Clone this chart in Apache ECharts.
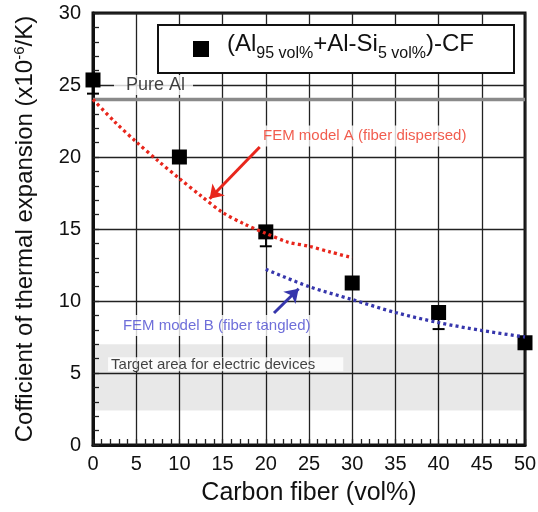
<!DOCTYPE html>
<html>
<head>
<meta charset="utf-8">
<script src="https://cdn.jsdelivr.net/npm/echarts@6/dist/echarts.min.js"></script>
<style>
  html, body { margin: 0; padding: 0; background: #fff; }
  #chart { width: 538px; height: 512px; }
</style>
</head>
<body>
<div id="chart"></div>
<script>
// Measured CTE of (Al95vol% + Al-Si5vol%)-CF composites
const fiberVol = [0, 10, 20, 30, 40, 50];
const cteMeasured = [25.35, 20.0, 14.8, 11.25, 9.2, 7.1];
// lower ends of the error bars (null = no bar)
const errLower = [24.4, null, 13.8, null, 8.05, null];

// FEM model A (fiber dispersed)
const modelAFiber = [0, 2.5, 5, 7.5, 10, 12.5, 15, 17.5, 20, 22.5, 25, 27.5, 30];
const modelACte = [24.0, 22.45, 21.05, 19.75, 18.5, 17.3, 16.15, 15.35, 14.7, 14.1, 13.8, 13.4, 13.0];

// FEM model B (fiber tangled)
const modelBFiber = [20, 25, 30, 35, 40, 45, 50];
const modelBCte = [12.2, 11.0, 10.1, 9.2, 8.5, 7.95, 7.5];

// reference level and target window
const pureAlCte = 24.0;
const targetBand = [2.4, 7.0];

const FONT = '"Liberation Sans", Arial, Helvetica, sans-serif';
const RED = '#e8261c';
const BLUE = '#3636ac';
const INK = '#111';

const zip = (xs, ys) => xs.map((x, i) => [x, ys[i]]);
const errData = fiberVol
  .map((x, i) => errLower[i] == null ? null : [x, errLower[i], cteMeasured[i]])
  .filter(d => d);

const chart = echarts.init(document.getElementById('chart'), null, { renderer: 'canvas' });

const textLabel = (text, color, fontSize, padding, extra) => Object.assign({
  show: true,
  position: 'right',
  distance: 0,
  formatter: text,
  color: color,
  fontFamily: FONT,
  fontSize: fontSize,
  backgroundColor: '#fff',
  padding: padding,
  align: 'left',
  verticalAlign: 'middle'
}, extra || {});

const axisCommon = {
  type: 'value',
  nameLocation: 'middle',
  nameMoveOverlap: false,
  axisLine: { show: true, lineStyle: { color: INK, width: 3 } },
  axisTick: { show: true, inside: true, length: 6, lineStyle: { color: '#222', width: 1.3 } },
  minorTick: { show: true, splitNumber: 5, length: 6, lineStyle: { color: '#222', width: 1.3 } },
  splitLine: { show: true, lineStyle: { color: '#222', width: 1.3 } }
};

const option = {
  animation: false,
  backgroundColor: '#fff',
  grid: {
    left: 93, right: 13, top: 13, bottom: 67,
    outerBoundsMode: 'none',
    containLabel: false,
    show: true,
    backgroundColor: 'transparent',
    borderColor: INK,
    borderWidth: 3
  },
  xAxis: Object.assign({}, axisCommon, {
    min: 0, max: 50, interval: 5,
    name: 'Carbon fiber (vol%)',
    nameGap: 36,
    nameTextStyle: { fontFamily: FONT, fontSize: 25, color: INK },
    axisLabel: { fontFamily: FONT, fontSize: 20, color: INK, margin: 9 }
  }),
  yAxis: Object.assign({}, axisCommon, {
    min: 0, max: 30, interval: 5,
    name: 'Cofficient of thermal expansion (x10{sup|-6}/K)',
    nameRotate: 90,
    nameGap: 54,
    nameTextStyle: {
      fontFamily: FONT, fontSize: 24, color: INK,
      rich: { sup: { fontFamily: FONT, fontSize: 15, color: INK, padding: [0, 0, 12, 0] } }
    },
    axisLabel: { fontFamily: FONT, fontSize: 20, color: INK, margin: 12 }
  }),
  series: [
    {
      // Pure Al reference line + target window shading
      name: 'Pure Al',
      type: 'line',
      data: [[0, pureAlCte], [50, pureAlCte]],
      symbol: 'none',
      silent: true,
      z: 2,
      lineStyle: { color: '#8a8a8a', width: 3.5 },
      markArea: {
        silent: true,
        itemStyle: { color: 'rgba(0,0,0,0.09)' },
        label: { show: false },
        data: [[{ xAxis: 0, yAxis: targetBand[0] }, { xAxis: 50, yAxis: targetBand[1] }]]
      }
    },
    {
      // error bars (lower half)
      name: 'error',
      type: 'custom',
      data: errData,
      encode: { x: 0, y: [1, 2] },
      z: 3,
      silent: true,
      renderItem: function (params, api) {
        const x = api.value(0);
        const lo = api.coord([x, api.value(1)]);
        const hi = api.coord([x, api.value(2)]);
        return {
          type: 'group',
          children: [
            { type: 'line', shape: { x1: lo[0], y1: lo[1], x2: hi[0], y2: hi[1] }, style: { stroke: '#000', lineWidth: 1.5 } },
            { type: 'line', shape: { x1: lo[0] - 6, y1: lo[1], x2: lo[0] + 6, y2: lo[1] }, style: { stroke: '#000', lineWidth: 2 } }
          ]
        };
      }
    },
    {
      name: '(Al95 vol%+Al-Si5 vol%)-CF',
      type: 'scatter',
      data: zip(fiberVol, cteMeasured),
      symbol: 'rect',
      symbolSize: 15,
      z: 4,
      itemStyle: { color: '#000', opacity: 1 }
    },
    {
      name: 'FEM model A (fiber dispersed)',
      type: 'line',
      data: zip(modelAFiber, modelACte),
      smooth: 0.3,
      symbol: 'none',
      z: 5,
      lineStyle: { color: RED, width: 3.3, type: [3, 3.2], cap: 'butt' },
      markLine: {
        silent: true,
        symbol: ['none', 'arrow'],
        symbolSize: 13,
        label: { show: false },
        lineStyle: { color: RED, width: 3, type: 'solid' },
        data: [[{ coord: [19.3, 20.7] }, { coord: [13.5, 17.1] }]]
      }
    },
    {
      name: 'FEM model B (fiber tangled)',
      type: 'line',
      data: zip(modelBFiber, modelBCte),
      smooth: 0.3,
      symbol: 'none',
      z: 5,
      lineStyle: { color: BLUE, width: 3.3, type: [3, 3.2], cap: 'butt' },
      markLine: {
        silent: true,
        symbol: ['none', 'arrow'],
        symbolSize: 13,
        label: { show: false },
        lineStyle: { color: BLUE, width: 3, type: 'solid' },
        data: [[{ coord: [20.95, 9.17] }, { coord: [23.8, 10.85] }]]
      }
    },
    {
      // text annotations placed in data units
      name: 'notes',
      type: 'scatter',
      symbolSize: 0,
      silent: true,
      z: 6,
      data: [
        { value: [2.43, 25.0], label: textLabel('Pure Al', INK, 18, [1, 8, 1, 12]) },
        { value: [1.74, 5.6], label: textLabel('Target area for electric devices', INK, 15, [0, 28, 0, 3], { lineHeight: 14 }) },
        { value: [19.33, 21.46], label: textLabel('FEM model A (fiber dispersed)', '#ee3322', 15, [3, 3, 3, 3]) },
        { value: [3.12, 8.3], label: textLabel('FEM model B (fiber tangled)', '#4a4ad0', 15, [3, 3, 3, 3]) }
      ]
    }
  ],
  graphic: [
    {
      type: 'rect', z: 100,
      shape: { x: 158, y: 25, width: 356, height: 48 },
      style: { fill: '#fff', stroke: INK, lineWidth: 2 }
    },
    {
      type: 'rect', z: 101,
      shape: { x: 193, y: 41, width: 16, height: 16 },
      style: { fill: '#000' }
    },
    {
      type: 'text', z: 101,
      x: 227, y: 44,
      style: {
        text: '(Al{s|95 vol%}+Al-Si{s|5 vol%})-CF',
        fontFamily: FONT,
        fontSize: 24,
        fill: INK,
        verticalAlign: 'middle',
        align: 'left',
        rich: { s: { fontFamily: FONT, fontSize: 16, fill: INK, padding: [20, 0, 0, 0] } }
      }
    }
  ]
};

chart.setOption(option);
</script>
</body>
</html>
